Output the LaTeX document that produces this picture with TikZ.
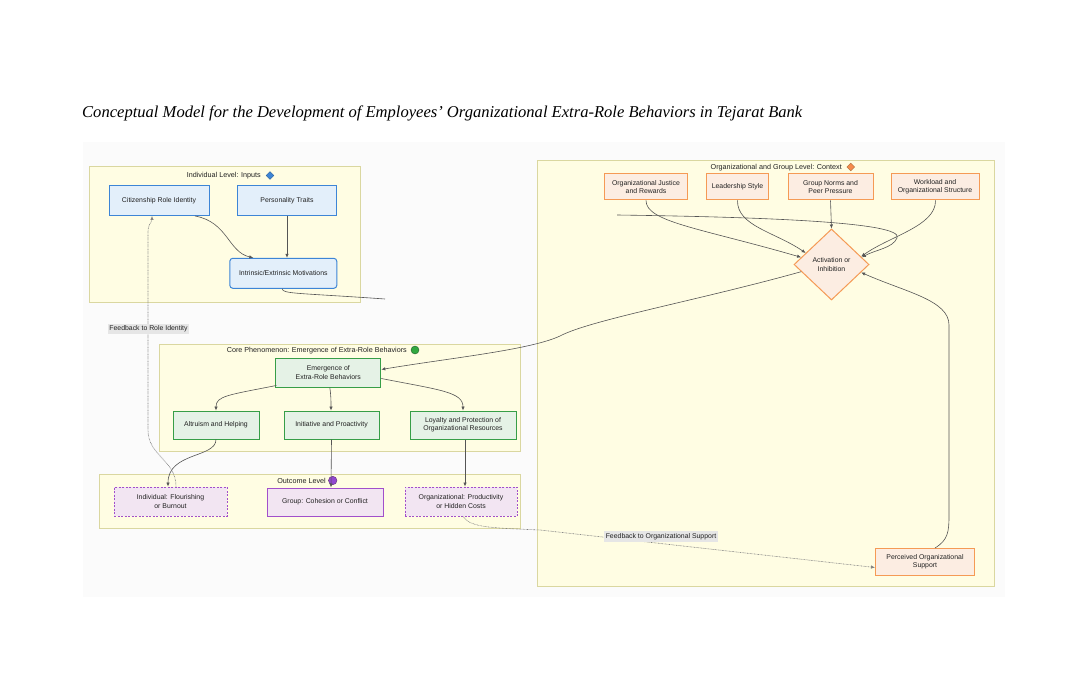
\documentclass[tikz,border=0pt]{standalone}
\usepackage{fontspec}
\setmainfont{Liberation Sans}
\newfontfamily\titlefont{Liberation Serif}
\usetikzlibrary{shapes.geometric,arrows.meta,calc}
\definecolor{grpfill}{HTML}{FFFDE3}
\definecolor{grpbd}{HTML}{DAD7A0}
\definecolor{bluefill}{HTML}{E3EFFA}
\definecolor{bluebd}{HTML}{3D85D6}
\definecolor{orfill}{HTML}{FCEDE2}
\definecolor{orbd}{HTML}{F59A55}
\definecolor{grfill}{HTML}{E5F2E6}
\definecolor{grbd}{HTML}{379E47}
\definecolor{pufill}{HTML}{F2E5F2}
\definecolor{pubd}{HTML}{A24FCB}
\definecolor{edgec}{HTML}{555555}
\definecolor{txt}{HTML}{222222}
\definecolor{lblfill}{HTML}{E6E6E6}
\definecolor{bgc}{HTML}{FBFBFB}
\newcommand\nodefont{\fontsize{6.9}{8.2}\selectfont}
\newcommand\grpfont{\fontsize{7.2}{8.5}\selectfont}
\tikzset{
  grp/.style={draw=grpbd, fill=grpfill, line width=0.8pt, inner sep=0},
  box/.style={inner sep=0, line width=1pt, font=\nodefont, text=txt, align=center},
  bnode/.style={box, draw=bluebd, fill=bluefill},
  onode/.style={box, draw=orbd, fill=orfill},
  gnode/.style={box, draw=grbd, fill=grfill},
  pnode/.style={box, draw=pubd, fill=pufill},
  pdash/.style={pnode, dash pattern=on 2pt off 1.5pt},
  gtitle/.style={font=\grpfont, text=txt, inner sep=0, anchor=east},
  edge/.style={draw=edgec, line width=0.6pt, -{Latex[length=4pt,width=3.4pt]}},
  plain/.style={draw=edgec, line width=0.6pt},
  fb/.style={draw=gray, line width=0.6pt, dash pattern=on 0.7pt off 0.7pt, -{Latex[length=4pt,width=3.4pt]}},
  lbl/.style={fill=lblfill, font=\nodefont, text=txt, inner xsep=1.5pt, inner ysep=2pt}
}
\begin{document}
\begin{tikzpicture}[x=1pt,y=-1pt]
\useasboundingbox (0,0) rectangle (1086,692);
\fill[white] (0,0) rectangle (1086,692);
\node[fill=bgc, minimum width=922pt, minimum height=455pt, inner sep=0] (bg) at (544,369.5) {};

% title
\node[anchor=west, inner sep=0] (title) at (82,113)
  {\resizebox{720pt}{!}{\titlefont\itshape Conceptual Model for the Development of Employees’ Organizational Extra-Role Behaviors in Tejarat Bank}};

% groups
\node[grp, minimum width=271pt, minimum height=136pt] (gind) at (225.3,234.7) {};
\node[grp, minimum width=457pt, minimum height=426pt] (gorg) at (765.5,373) {};
\node[grp, minimum width=361pt, minimum height=107pt] (gcore) at (339.5,397.5) {};
\node[grp, minimum width=421pt, minimum height=54pt] (gout) at (309.5,501) {};

% group titles
\node[gtitle] (tind) at (261,175.7) {Individual Level: Inputs};
\node[diamond, fill=bluebd, draw=bluebd!70!black, line width=0.4pt, inner sep=0, minimum size=8pt] (mind) at (270,175.5) {};
\node[gtitle] (torg) at (842,167.3) {Organizational and Group Level: Context};
\node[diamond, fill=orbd!90!red, draw=orbd!70!black, line width=0.4pt, inner sep=0, minimum size=8pt] (morg) at (850.7,167) {};
\node[gtitle] (tcore) at (407,350.2) {Core Phenomenon: Emergence of Extra-Role Behaviors};
\node[circle, fill=grbd!90!green, draw=grbd!60!black, line width=0.4pt, inner sep=0, minimum size=8pt] (mcore) at (415,350) {};
\node[gtitle] (tout) at (326,480.7) {Outcome Level};
\node[circle, fill=pubd!90!blue, draw=pubd!60!black, line width=0.4pt, inner sep=0, minimum size=8.5pt] (mout) at (332.7,480.5) {};

% individual nodes
\node[bnode, minimum width=100pt, minimum height=30pt] (cit) at (159,200.5) {Citizenship Role Identity};
\node[bnode, minimum width=99pt, minimum height=30pt] (pers) at (287,200.5) {Personality Traits};
\node[bnode, rounded corners=3pt, minimum width=107pt, minimum height=30pt] (intr) at (283.3,273.3) {Intrinsic/Extrinsic Motivations};

% org nodes
\node[onode, minimum width=83pt, minimum height=26pt] (just) at (646,187) {Organizational Justice\\and Rewards};
\node[onode, minimum width=62pt, minimum height=26pt] (lead) at (737.5,187) {Leadership Style};
\node[onode, minimum width=85pt, minimum height=26pt] (norm) at (830.5,187) {Group Norms and\\Peer Pressure};
\node[onode, minimum width=88pt, minimum height=26pt] (work) at (935,187) {Workload and\\Organizational Structure};
\node[onode, diamond, minimum width=75pt, minimum height=71pt] (act) at (831.5,264.5) {Activation or\\Inhibition};
\node[onode, minimum width=99pt, minimum height=27pt] (pos) at (925,562) {Perceived Organizational\\Support};

% core nodes
\node[gnode, minimum width=105pt, minimum height=29pt] (emer) at (328.3,372.5) {Emergence of\\Extra-Role Behaviors};
\node[gnode, minimum width=86pt, minimum height=28pt] (alt) at (216,425) {Altruism and Helping};
\node[gnode, minimum width=95pt, minimum height=28pt] (ini) at (331.5,425) {Initiative and Proactivity};
\node[gnode, minimum width=106pt, minimum height=28pt] (loy) at (463,425) {Loyalty and Protection of\\Organizational Resources};

% outcome nodes
\node[pdash, minimum width=113pt, minimum height=29pt] (oind) at (170.5,501.5) {Individual: Flourishing\\or Burnout};
\node[pnode, minimum width=116pt, minimum height=28pt] (ogrp) at (325,502) {Group: Cohesion or Conflict};
\node[pdash, minimum width=112pt, minimum height=29pt] (oorg) at (461,501.5) {Organizational: Productivity\\or Hidden Costs};

% free ends of the broken connector
\coordinate (brk1) at (385,299);
\coordinate (brk2) at (617,215);

% edges: individual level
\draw[edge] ([xshift=36pt]cit.south) .. controls (228,222) and (228,252) .. ([xshift=-30pt]intr.north);
\draw[edge] (pers.south) -- ([xshift=3.7pt]intr.north);
\draw[plain] ([xshift=-1pt]intr.south) .. controls (282,294) and (300,293) .. (brk1);

% edges: context
\draw[edge] (brk2) .. controls (760,217) and (905,222) .. (897,238) .. controls (893,248) and (875,250) .. ($(act.north)!0.8!(act.east)$);
\draw[edge] (just.south) .. controls (646,222) and (700,228) .. ($(act.west)!0.2!(act.north)$);
\draw[edge] (lead.south) .. controls (737,226) and (775,232) .. ($(act.west)!0.32!(act.north)$);
\draw[edge] (norm.south) -- (act.north);
\draw[edge] ([xshift=0.5pt]work.south) .. controls (936,226) and (890,236) .. ($(act.north)!0.78!(act.east)$);
\draw[edge] ([xshift=10pt]pos.north) .. controls (948,540) and (949,532) .. (949,515) -- (949,325) .. controls (949,300) and (905,292) .. ($(act.east)!0.22!(act.south)$);
\draw[edge] ($(act.west)!0.2!(act.south)$) .. controls (700,300) and (590,320) .. (560,336) .. controls (530,350) and (450,358) .. ([yshift=3pt]emer.east);

% edges: core
\draw[edge] ([xshift=-52pt,yshift=-13pt]emer.center) .. controls (228,395) and (216,396) .. (alt.north);
\draw[edge] ([xshift=1.5pt]emer.south) .. controls (331,396) and (331,400) .. ([xshift=-0.5pt]ini.north);
\draw[edge] ([yshift=-6pt]emer.east) .. controls (440,390) and (463,392) .. (loy.north);

% edges: outcomes
\draw[edge] (alt.south) .. controls (216,458) and (168,452) .. ([xshift=-2.5pt]oind.north);
\draw[edge] (ini.south) -- ([xshift=6pt]ogrp.north);
\draw[edge] ([xshift=2pt]loy.south) -- ([xshift=4pt]oorg.north);

% feedback loops
\draw[fb] ([xshift=5.5pt]oind.north) .. controls (176,460) and (148,456) .. (148,430) -- (148,232) .. controls (148,224) and (152,222) .. ([xshift=-7pt]cit.south);
\node[lbl] (lfb1) at (148.5,329) {Feedback to Role Identity};
\draw[fb] ([xshift=2pt]oorg.south) .. controls (470,528) and (495,528) .. (540,530) -- ([yshift=-5.5pt]pos.west);
\node[lbl] (lfb2) at (661,536.5) {Feedback to Organizational Support};
\end{tikzpicture}
\end{document}
